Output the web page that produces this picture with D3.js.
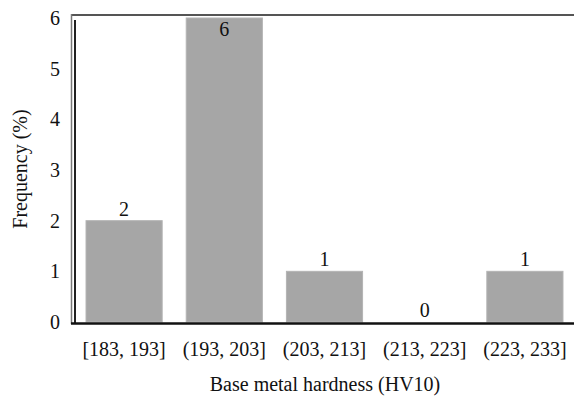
<!DOCTYPE html>
<html><head><meta charset="utf-8">
<script src="https://cdn.jsdelivr.net/npm/d3@7"></script>
<style>body{margin:0;background:#fff}svg{display:block}</style>
</head><body>
<svg id="c" width="574" height="401"></svg>
<script>
const categories = ["[183, 193]", "(193, 203]", "(203, 213]", "(213, 223]", "(223, 233]"];
const values = [2, 6, 1, 0, 1];
const yTicks = [0, 1, 2, 3, 4, 5, 6];
const yTitle = "Frequency (%)";
const xTitle = "Base metal hardness (HV10)";

(function () {
const svg = d3.select("#c");
const font = "'Liberation Serif', 'Times New Roman', serif";
const mLeft = 74, mRight = 575, mTop = 18, mBottom = 322;

const x = d3.scaleBand().domain(categories).range([mLeft, mRight]).paddingInner(0.24).paddingOuter(0.12);
const y = d3.scaleLinear().domain([0, 6]).range([mBottom, mTop]);

// bars
svg.selectAll("rect.bar").data(values).join("rect")
  .attr("class", "bar")
  .attr("x", (d, i) => x(categories[i]))
  .attr("y", d => y(d))
  .attr("width", x.bandwidth())
  .attr("height", d => y(0) - y(d))
  .attr("fill", "#a6a6a6")
  .attr("stroke", "#b4b4b4")
  .attr("stroke-width", 1);

// frame lines
svg.append("line").attr("x1", 71).attr("x2", 574).attr("y1", 15).attr("y2", 15).attr("stroke", "#555").attr("stroke-width", 2);
svg.append("line").attr("x1", 71.5).attr("x2", 71.5).attr("y1", 14).attr("y2", 324).attr("stroke", "#777").attr("stroke-width", 1.5);
svg.append("line").attr("x1", 75).attr("x2", 75).attr("y1", 20).attr("y2", 324).attr("stroke", "#222").attr("stroke-width", 2);
svg.append("line").attr("x1", 71).attr("x2", 574).attr("y1", y(0) + 1.5).attr("y2", y(0) + 1.5).attr("stroke", "#111").attr("stroke-width", 2.5);

// y axis labels
const yAxis = d3.axisLeft(y).tickValues(yTicks).tickSize(0).tickPadding(0).tickFormat(d3.format("d"));
const yg = svg.append("g").attr("transform", "translate(60,0)").call(yAxis);
yg.select(".domain").remove();
yg.selectAll("text").attr("font-family", font).attr("font-size", 20).attr("fill", "#111");

// x axis labels
const xAxis = d3.axisBottom(x).tickSize(0).tickPadding(0);
const xg = svg.append("g").attr("transform", "translate(0,342)").call(xAxis);
xg.select(".domain").remove();
xg.selectAll("text").attr("font-family", font).attr("font-size", 20).attr("fill", "#111");

// value labels
svg.selectAll("text.val").data(values).join("text")
  .attr("class", "val")
  .attr("x", (d, i) => x(categories[i]) + x.bandwidth() / 2)
  .attr("y", d => (y(d) - 6 < 30 ? y(d) + 18 : y(d) - 5))
  .attr("text-anchor", "middle")
  .attr("font-family", font).attr("font-size", 20).attr("fill", "#111")
  .text(d => d);

// titles
svg.append("text").attr("transform", "translate(27,169) rotate(-90)")
  .attr("text-anchor", "middle").attr("font-family", font).attr("font-size", 20).attr("fill", "#111")
  .text(yTitle);
svg.append("text").attr("x", 325).attr("y", 391)
  .attr("text-anchor", "middle").attr("font-family", font).attr("font-size", 20).attr("fill", "#111")
  .text(xTitle);
})();
</script>
</body></html>
